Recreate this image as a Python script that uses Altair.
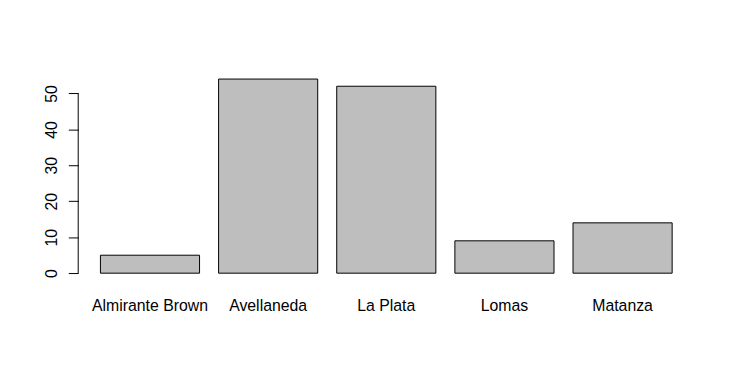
import altair as alt
import pandas as pd

categories = ["Almirante Brown", "Avellaneda", "La Plata", "Lomas", "Matanza"]
values = [5, 54, 52, 9, 14]
y_ticks = [0, 10, 20, 30, 40, 50]

df = pd.DataFrame({"cat": categories, "val": values})
axis_df = pd.DataFrame({"lo": [min(y_ticks)], "hi": [max(y_ticks)]})

FONT = "Liberation Sans"

y_scale = alt.Scale(domain=[-2.16, 56.16], nice=False, zero=False)
x_scale = alt.Scale(paddingInner=0.161, paddingOuter=0.188)

bars = alt.Chart(df).mark_bar(
    color="#BEBEBE", stroke="black", strokeWidth=1
).encode(
    x=alt.X("cat:N", scale=x_scale, sort=categories,
            axis=alt.Axis(title=None, labelAngle=0, domain=False, ticks=False,
                          tickSize=0, labelPadding=17, labelFont=FONT,
                          labelFontSize=16, labelColor="black", grid=False)),
    y=alt.Y("val:Q", scale=y_scale,
            axis=alt.Axis(title=None, values=y_ticks, domain=False, tickSize=10,
                          tickColor="black", labelAngle=270, labelAlign="center",
                          labelBaseline="alphabetic", labelPadding=12,
                          labelFont=FONT, labelFontSize=16, labelColor="black",
                          grid=False)),
    y2=alt.datum(0),
)

axis_line = alt.Chart(axis_df).mark_rule(color="black", strokeWidth=1).encode(
    x=alt.value(0),
    y=alt.Y("lo:Q", scale=y_scale),
    y2="hi:Q",
)

chart = alt.layer(bars, axis_line).properties(
    width=623, height=212,
    autosize=alt.AutoSizeParams(type="none"),
    padding={"left": 71, "top": 62, "right": 33, "bottom": 83},
).configure(background="white").configure_view(stroke="transparent", strokeWidth=0)

chart.save("out.html", embed_options={"renderer": "svg", "actions": False})
